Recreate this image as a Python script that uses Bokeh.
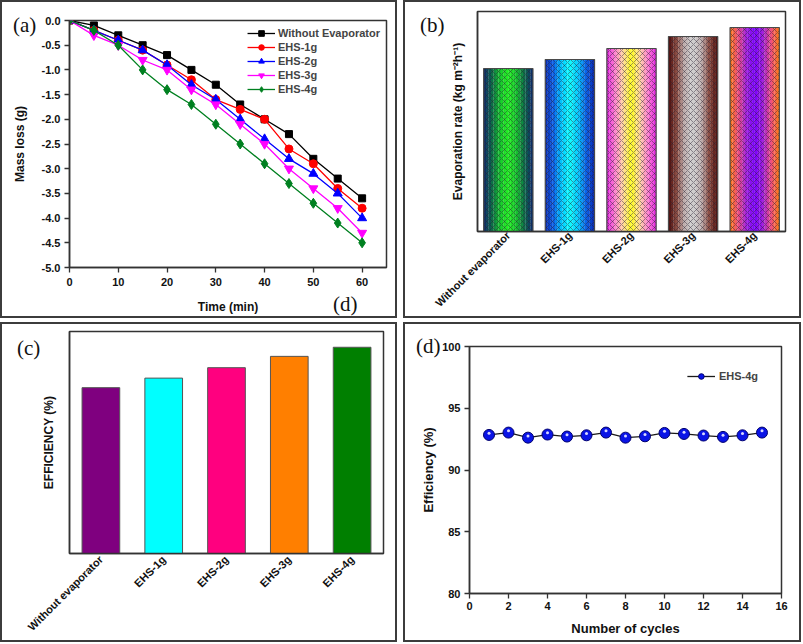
import math
from bokeh.plotting import figure
from bokeh.models import (ColumnDataSource, FixedTicker, NumeralTickFormatter, Div,
                          Range1d, FactorRange)
from bokeh.transform import dodge
from bokeh.layouts import row, column
from bokeh.embed import file_html
from bokeh.resources import INLINE

# ---------------- data ----------------
time_min = [0, 5, 10, 15, 20, 25, 30, 35, 40, 45, 50, 55, 60]
mass_without = [0, -0.1, -0.3, -0.5, -0.7, -1.0, -1.3, -1.7, -2.0, -2.3, -2.8, -3.2, -3.6]
mass_ehs1 = [0, -0.2, -0.4, -0.6, -0.9, -1.2, -1.6, -1.8, -2.0, -2.6, -2.9, -3.4, -3.8]
mass_ehs2 = [0, -0.2, -0.4, -0.6, -0.9, -1.3, -1.6, -2.0, -2.4, -2.8, -3.1, -3.5, -4.0]
mass_ehs3 = [0, -0.3, -0.5, -0.8, -1.0, -1.4, -1.7, -2.1, -2.5, -3.0, -3.4, -3.8, -4.3]
mass_ehs4 = [0, -0.2, -0.5, -1.0, -1.4, -1.7, -2.1, -2.5, -2.9, -3.3, -3.7, -4.1, -4.5]
series_names = ["Without Evaporator", "EHS-1g", "EHS-2g", "EHS-3g", "EHS-4g"]

categories = ["Without evaporator", "EHS-1g", "EHS-2g", "EHS-3g", "EHS-4g"]
evap_rate = [1.63, 1.72, 1.83, 1.95, 2.04]
efficiency = [74.7, 79.0, 83.7, 88.8, 92.9]

cycles = [1, 2, 3, 4, 5, 6, 7, 8, 9, 10, 11, 12, 13, 14, 15]
cycle_eff = [92.84, 93.03, 92.62, 92.87, 92.71, 92.81, 93.03, 92.62, 92.73,
             93.0, 92.92, 92.79, 92.68, 92.81, 93.03]

panel_tags = ["(a)", "(b)", "(c)", "(d)"]

# ---------------- styles ----------------
SANS = "Liberation Sans"
SERIF = "Liberation Serif"
AX = "#333333"


def base_fig(w, h, **kw):
    p = figure(width=w, height=h, output_backend="svg", toolbar_location=None, **kw)
    p.grid.visible = False
    p.outline_line_color = AX
    p.outline_line_width = 1.5
    p.outline_line_alpha = 1
    for ax in p.axis:
        ax.axis_line_color = AX
        ax.axis_line_width = 1.5
        ax.major_tick_line_color = AX
        ax.major_tick_line_width = 1.3
        ax.minor_tick_line_color = None
        ax.major_tick_in = 0
        ax.major_tick_out = 5
        ax.major_label_text_font = SANS
        ax.major_label_text_font_style = "bold"
        ax.major_label_text_font_size = "11px"
        ax.major_label_text_color = "#111111"
        ax.axis_label_text_font = SANS
        ax.axis_label_text_font_style = "bold"
        ax.axis_label_text_font_size = "12px"
        ax.axis_label_text_color = "#111111"
    return p


def tag(text, left, top):
    return Div(text=text, styles={
        "position": "absolute", "left": f"{left}px", "top": f"{top}px",
        "font-family": SERIF, "font-size": "21px", "line-height": "21px",
        "color": "#111111", "white-space": "nowrap", "z-index": "5"})


def framed(p, *tags):
    return column(p, *tags, styles={"border": "2px solid #3c3c3c", "position": "relative"})


def hex_to_rgb(h):
    h = h.lstrip("#")
    return tuple(int(h[i:i + 2], 16) for i in (0, 2, 4))


def sample_gradient(stops, n):
    rgb = [hex_to_rgb(s) for s in stops]
    out = []
    for k in range(n):
        t = (k + 0.5) / n * (len(rgb) - 1)
        i = min(int(t), len(rgb) - 2)
        f = t - i
        c = [round(rgb[i][j] * (1 - f) + rgb[i + 1][j] * f) for j in range(3)]
        out.append("#%02x%02x%02x" % tuple(c))
    return out


def style_legend(lg, margin, padding):
    lg.location = "top_right"
    lg.margin = margin
    lg.padding = padding
    lg.spacing = 0
    lg.glyph_width = 28
    lg.glyph_height = 14
    lg.label_height = 14
    lg.label_standoff = 3
    lg.label_text_font = SANS
    lg.label_text_font_style = "bold"
    lg.label_text_font_size = "11px"
    lg.background_fill_alpha = 0
    lg.border_line_alpha = 0


# ---------------- (a) ----------------
pa = base_fig(393, 314, x_range=Range1d(0, 65), y_range=Range1d(-5, 0),
              min_border_left=67, min_border_right=9, min_border_top=18, min_border_bottom=43)
pa.xaxis.ticker = FixedTicker(ticks=[0, 10, 20, 30, 40, 50, 60])
pa.yaxis.ticker = FixedTicker(ticks=[-5, -4.5, -4, -3.5, -3, -2.5, -2, -1.5, -1, -0.5, 0])
pa.yaxis.formatter = NumeralTickFormatter(format="0.0")
pa.xaxis.axis_label = "Time (min)"
pa.yaxis.axis_label = "Mass loss (g)"
pa.xaxis.major_label_standoff = 5
pa.xaxis.axis_label_standoff = 11
pa.yaxis.major_label_standoff = 4
pa.yaxis.axis_label_standoff = 12

a_series = [mass_without, mass_ehs1, mass_ehs2, mass_ehs3, mass_ehs4]
a_colors = ["#000000", "#ff0000", "#0000ff", "#ff00ff", "#008020"]
a_markers = ["square", "circle", "triangle", "inverted_triangle", "diamond"]
a_sizes = [7, 8, 9, 9, 10]
for name, ys, c, m, s in zip(series_names, a_series, a_colors, a_markers, a_sizes):
    pa.line(time_min, ys, line_color=c, line_width=1.3, legend_label=name)
    pa.scatter(time_min, ys, marker=m, size=s, fill_color=c, line_color=c, legend_label=name)
style_legend(pa.legend[0], 4, 2)

# ---------------- (b) ----------------
pb = base_fig(394, 314, x_range=FactorRange(factors=categories), y_range=Range1d(0, 2.2),
              min_border_left=72, min_border_right=14, min_border_top=9, min_border_bottom=80)
pb.yaxis.ticker = FixedTicker(ticks=[])
pb.yaxis.major_tick_out = 0
pb.yaxis.axis_label = "Evaporation rate (kg m\u207b\u00b2h\u207b\u00b9)"
pb.yaxis.axis_label_standoff = 13
pb.xaxis.major_tick_line_color = None
pb.xaxis.major_tick_out = 0
pb.xaxis.major_label_orientation = math.pi / 4
pb.xaxis.major_label_standoff = 2

b_stops = [
    ["#0b266b", "#0d6a4a", "#14c42c", "#22f222", "#14c42c", "#0d6a4a", "#0b266b"],
    ["#0a2ab0", "#0a5fe8", "#00c8ff", "#10ffff", "#00c8ff", "#0a5fe8", "#0a2ab0"],
    ["#e020e0", "#ff80d0", "#ffd8a0", "#ffff20", "#ffd8a0", "#ff80d0", "#e020e0"],
    ["#4a0a0a", "#8a4a40", "#c0b0b0", "#d2d2d2", "#c0b0b0", "#8a4a40", "#4a0a0a"],
    ["#ff7a10", "#f05080", "#a020e0", "#7a00ff", "#a020e0", "#f05080", "#ff7a10"],
]
K = 20
BW = 0.8
strip_cols = [sample_gradient(s, K) for s in b_stops]
for k in range(K):
    off = -BW / 2 + (k + 0.5) * BW / K
    src = ColumnDataSource(dict(cat=categories, val=evap_rate,
                                col=[strip_cols[i][k] for i in range(len(categories))]))
    pb.vbar(x=dodge("cat", off, range=pb.x_range), top="val", width=BW / K * 1.08,
            fill_color="col", line_color=None, source=src)
pb.vbar(x=categories, top=evap_rate, width=BW, fill_alpha=0,
        hatch_pattern="diagonal_cross", hatch_color="#2a2030", hatch_alpha=0.55,
        hatch_scale=6, hatch_weight=0.8, line_color="#4a4a4a", line_width=1.2)

# ---------------- (c) ----------------
pc = base_fig(393, 316, x_range=FactorRange(factors=categories), y_range=Range1d(0, 100),
              min_border_left=67, min_border_right=12, min_border_top=7, min_border_bottom=84)
pc.yaxis.ticker = FixedTicker(ticks=[])
pc.yaxis.major_tick_out = 0
pc.yaxis.axis_label = "EFFICIENCY (%)"
pc.yaxis.axis_label_standoff = 14
pc.xaxis.major_tick_line_color = None
pc.xaxis.major_tick_out = 0
pc.xaxis.major_label_orientation = math.pi / 4
pc.xaxis.major_label_standoff = 4
c_colors = ["#7f007f", "#00ffff", "#ff007f", "#ff7f00", "#007f00"]
pc.vbar(x=categories, top=efficiency, width=0.6, fill_color=c_colors,
        line_color="#555555", line_width=1)

# ---------------- (d) ----------------
pd_ = base_fig(394, 316, x_range=Range1d(0, 16), y_range=Range1d(80, 100),
               min_border_left=64, min_border_right=18, min_border_top=22, min_border_bottom=47)
pd_.xaxis.ticker = FixedTicker(ticks=[0, 2, 4, 6, 8, 10, 12, 14, 16])
pd_.yaxis.ticker = FixedTicker(ticks=[80, 85, 90, 95, 100])
pd_.xaxis.axis_label = "Number of cycles"
pd_.yaxis.axis_label = "Efficiency (%)"
for ax in pd_.axis:
    ax.axis_label_text_font_size = "13px"
pd_.xaxis.major_label_standoff = 3
pd_.xaxis.axis_label_standoff = 8
pd_.yaxis.major_label_standoff = 4
pd_.yaxis.axis_label_standoff = 3
pd_.line(cycles, cycle_eff, line_color="#1a1a1a", line_width=1.3, legend_label="EHS-4g")
pd_.scatter(cycles, cycle_eff, marker="circle", size=11, fill_color="#0a14e6",
            line_color="#00006e", line_width=1, legend_label="EHS-4g")
hl_src = ColumnDataSource(dict(x=cycles, y=cycle_eff))
pd_.scatter(x="x", y=dodge("y", 0.14), source=hl_src, marker="circle", size=3,
            fill_color="#d8d8ff", line_color=None)
style_legend(pd_.legend[0], 20, 3)
pd_.legend[0].label_standoff = 4

layout = column(
    row(framed(pa, tag(panel_tags[0], 6, 8), tag(panel_tags[3], 326, 287)),
        framed(pb, tag(panel_tags[1], 10, 8)), spacing=6),
    row(framed(pc, tag(panel_tags[2], 10, 9)),
        framed(pd_, tag(panel_tags[3], 6, 7)), spacing=6),
    spacing=4)

open("out.html", "w").write(file_html(layout, INLINE))
